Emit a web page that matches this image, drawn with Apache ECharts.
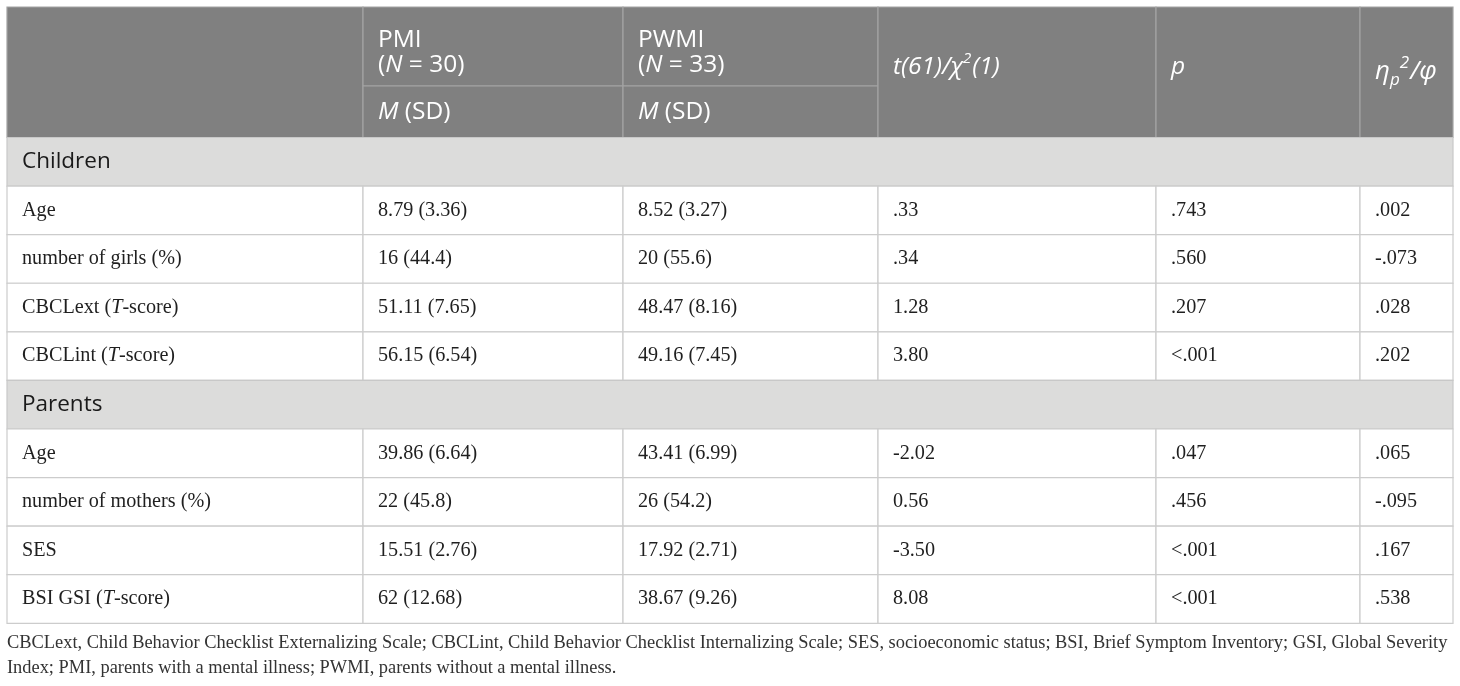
<!DOCTYPE html>
<html>
<head>
<meta charset="utf-8">
<script src="https://cdn.jsdelivr.net/npm/echarts@6/dist/echarts.min.js"></script>
<style>
  html, body { margin: 0; padding: 0; background: #fff; }
  #main { width: 1460px; height: 686px; }
</style>
</head>
<body>
<div id="main"></div>
<script>
// table content
const SECTIONS = ["Children", "Parents"];
const ROW_LABELS = [
  ["Age", "number of girls (%)", "CBCLext (T-score)", "CBCLint (T-score)"],
  ["Age", "number of mothers (%)", "SES", "BSI GSI (T-score)"],
];
const GROUPS = ["PMI", "PWMI"];
const GROUP_N = [30, 33];
const PMI_VALUES = ["8.79 (3.36)", "16 (44.4)", "51.11 (7.65)", "56.15 (6.54)",
  "39.86 (6.64)", "22 (45.8)", "15.51 (2.76)", "62 (12.68)"];
const PWMI_VALUES = ["8.52 (3.27)", "20 (55.6)", "48.47 (8.16)", "49.16 (7.45)",
  "43.41 (6.99)", "26 (54.2)", "17.92 (2.71)", "38.67 (9.26)"];
const T_VALUES = [".33", ".34", "1.28", "3.80", "-2.02", "0.56", "-3.50", "8.08"];
const P_VALUES = [".743", ".560", ".207", "<.001", ".047", ".456", "<.001", "<.001"];
const EFFECT_VALUES = [".002", "-.073", ".028", ".202", ".065", "-.095", ".167", ".538"];
const FOOTNOTE = [
  "CBCLext, Child Behavior Checklist Externalizing Scale; CBCLint, Child Behavior Checklist Internalizing Scale; SES, socioeconomic status; BSI, Brief Symptom Inventory; GSI, Global Severity",
  "Index; PMI, parents with a mental illness; PWMI, parents without a mental illness.",
];

// layout (in page pixels, mapped through the hidden axes)
const COL_EDGES = [7, 363, 623, 878, 1156, 1360, 1453];
const HEAD_TOP = 7;
const HEAD_MID = 86;
const HEAD_BOTTOM = 137.5;
const ROW_H = 48.58;
const PAD = 15;

const ROW_EDGES = [HEAD_TOP, HEAD_MID, HEAD_BOTTOM];
for (let i = 1; i <= 10; i++) ROW_EDGES.push(HEAD_BOTTOM + i * ROW_H);

const SANS = "'Open Sans', 'Noto Sans', sans-serif";
const SERIF = "'Liberation Serif', 'DejaVu Serif', serif";

const STYLES = {
  head: { fill: "#808080", stroke: "#a3a3a3", color: "#ffffff", font: SANS, size: 24.5, small: 15 },
  section: { fill: "#dcdcdb", stroke: "#c8c8c8", color: "#1a1a1a", font: SANS, size: 22.5, small: 14 },
  body: { fill: "#ffffff", stroke: "#cccccc", color: "#1f1f1f", font: SERIF, size: 20.2, small: 13 },
};

const italicT = (s) => s.replace("T-score", "{i|T}-score");

const cells = [];
function addCell(c0, c1, r0, r1, kind, text, opts) {
  const o = opts || {};
  cells.push({ c0, c1, r0, r1, kind, text: text || "", dy: o.dy || 0, lh: o.lh || 25, size: o.size, small: o.small });
}

// header
addCell(0, 1, 0, 2, "head", "");
GROUPS.forEach((g, i) => {
  addCell(i + 1, i + 2, 0, 1, "head", g + "\n({i|N} = " + GROUP_N[i] + ")", { dy: 6.5 });
  addCell(i + 1, i + 2, 1, 2, "head", "{i|M} (SD)", { dy: 0.5 });
});
addCell(3, 4, 0, 2, "head", "{i|t(61)/χ}{sup|2}{i|(1)}", { dy: -5, lh: 32 });
addCell(4, 5, 0, 2, "head", "{i|p}", { dy: -5 });
addCell(5, 6, 0, 2, "head", "{i|η}{sub|p}{sup|2}{i|/φ}", { dy: -1, lh: 34, size: 26, small: 17 });

// body
let row = 2;
SECTIONS.forEach((sec, s) => {
  addCell(0, 6, row, row + 1, "section", sec);
  row++;
  ROW_LABELS[s].forEach((label, k) => {
    const idx = s * 4 + k;
    addCell(0, 1, row, row + 1, "body", italicT(label));
    addCell(1, 2, row, row + 1, "body", PMI_VALUES[idx]);
    addCell(2, 3, row, row + 1, "body", PWMI_VALUES[idx]);
    addCell(3, 4, row, row + 1, "body", T_VALUES[idx]);
    addCell(4, 5, row, row + 1, "body", P_VALUES[idx]);
    addCell(5, 6, row, row + 1, "body", EFFECT_VALUES[idx]);
    row++;
  });
});

function renderCell(params, api) {
  const cell = cells[params.dataIndex];
  const st = STYLES[cell.kind];
  const size = cell.size || st.size;
  const small = cell.small || st.small;
  const tl = api.coord([api.value(0), api.value(2)]);
  const br = api.coord([api.value(1), api.value(3)]);
  const w = br[0] - tl[0];
  const h = br[1] - tl[1];
  const rich = {
    i: { fontStyle: "italic", fontFamily: st.font, fontSize: size, fill: st.color },
    sup: { fontStyle: "italic", fontFamily: st.font, fontSize: small, lineHeight: small, fill: st.color, verticalAlign: "top", padding: [0, 1, 0, 0] },
    sub: { fontStyle: "italic", fontFamily: st.font, fontSize: small, lineHeight: small, fill: st.color, verticalAlign: "bottom" },
  };
  return {
    type: "group",
    children: [
      {
        type: "rect",
        shape: { x: tl[0], y: tl[1], width: w, height: h },
        style: { fill: st.fill, stroke: st.stroke, lineWidth: 1.2 },
      },
      {
        type: "text",
        x: tl[0] + PAD,
        y: tl[1] + h / 2 + cell.dy,
        style: {
          text: cell.text,
          rich: rich,
          fill: st.color,
          fontFamily: st.font,
          fontSize: size,
          lineHeight: cell.lh,
          align: "left",
          verticalAlign: "middle",
        },
      },
    ],
  };
}

const chart = echarts.init(document.getElementById("main"));

chart.setOption({
  animation: false,
  backgroundColor: "#ffffff",
  title: {
    text: FOOTNOTE.join("\n"),
    left: 7,
    top: 631,
    padding: 0,
    textStyle: {
      fontFamily: SERIF,
      fontSize: 18.4,
      fontWeight: "normal",
      color: "#333333",
      lineHeight: 25,
    },
  },
  grid: { left: 0, right: 0, top: 0, bottom: 0 },
  xAxis: { type: "value", min: 0, max: 1460, show: false },
  yAxis: { type: "value", min: 0, max: 686, inverse: true, show: false },
  series: [
    {
      type: "custom",
      renderItem: renderCell,
      clip: false,
      silent: true,
      encode: { x: [0, 1], y: [2, 3] },
      data: cells.map((c) => [COL_EDGES[c.c0], COL_EDGES[c.c1], ROW_EDGES[c.r0], ROW_EDGES[c.r1]]),
    },
  ],
});
</script>
</body>
</html>
